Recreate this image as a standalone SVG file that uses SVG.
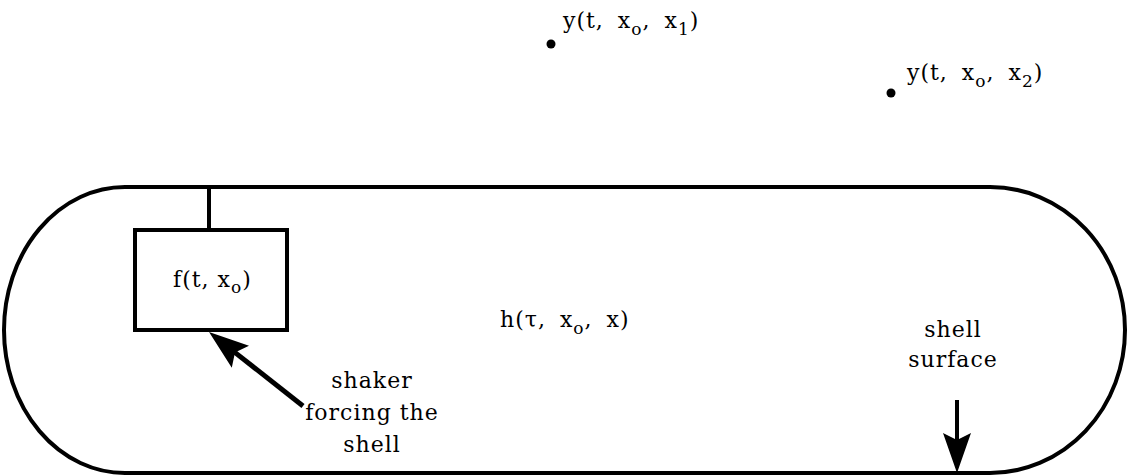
<svg xmlns="http://www.w3.org/2000/svg" width="1127" height="476" viewBox="0 0 1127 476">
<style>
.t{font-family:"DejaVu Serif","Liberation Serif",serif;font-size:22px;fill:#000;letter-spacing:1px}
.f{word-spacing:6px}
.s{font-size:17px}
.ln{stroke:#000;stroke-width:4;fill:none}
</style>
<defs>
<marker id="ah" markerUnits="userSpaceOnUse" markerWidth="40" markerHeight="30" refX="10" refY="14" orient="auto" viewBox="0 0 40 28">
<path d="M0,0 L40,14 L0,28 L7,14 Z" fill="#000"/>
</marker>
</defs>
<rect width="1127" height="476" fill="#fff"/>
<g id="shell">
<path class="ln" d="M125,187 L990,187 A135,143 0 0 1 990,473 L125,473 A121,143 0 0 1 125,187 Z"/>
</g>
<g id="shaker">
<line class="ln" x1="209" y1="187" x2="209" y2="230"/>
<rect class="ln" x="135" y="230" width="152" height="100"/>
<text class="t" x="173" y="287">f(t, x<tspan class="s" dy="6">o</tspan><tspan dy="-6">)</tspan></text>
</g>
<g id="point1">
<circle cx="551" cy="44" r="4.5" fill="#000"/>
<text class="t f" x="563" y="28">y(t, x<tspan class="s" dy="7">o</tspan><tspan dy="-7">, x</tspan><tspan class="s" dy="7">1</tspan><tspan dy="-7">)</tspan></text>
</g>
<g id="point2">
<circle cx="891" cy="93" r="4.5" fill="#000"/>
<text class="t f" x="907" y="80">y(t, x<tspan class="s" dy="7">o</tspan><tspan dy="-7">, x</tspan><tspan class="s" dy="7">2</tspan><tspan dy="-7">)</tspan></text>
</g>
<g id="response">
<text class="t f" x="500" y="327">h(τ, x<tspan class="s" dy="7">o</tspan><tspan dy="-7">, x)</tspan></text>
</g>
<g id="shaker-label">
<text class="t" text-anchor="middle" x="372" y="388">shaker</text>
<text class="t" text-anchor="middle" x="372" y="420">forcing the</text>
<text class="t" text-anchor="middle" x="372" y="452">shell</text>
</g>
<g id="surface-label">
<text class="t" text-anchor="middle" x="953" y="337">shell</text>
<text class="t" text-anchor="middle" x="953" y="367">surface</text>
</g>
<g id="connectors">
<line x1="303" y1="406" x2="232.6" y2="350.6" stroke="#000" stroke-width="5" marker-end="url(#ah)"/>
<line x1="957" y1="400" x2="957" y2="443" stroke="#000" stroke-width="4" marker-end="url(#ah)"/>
</g>
</svg>
